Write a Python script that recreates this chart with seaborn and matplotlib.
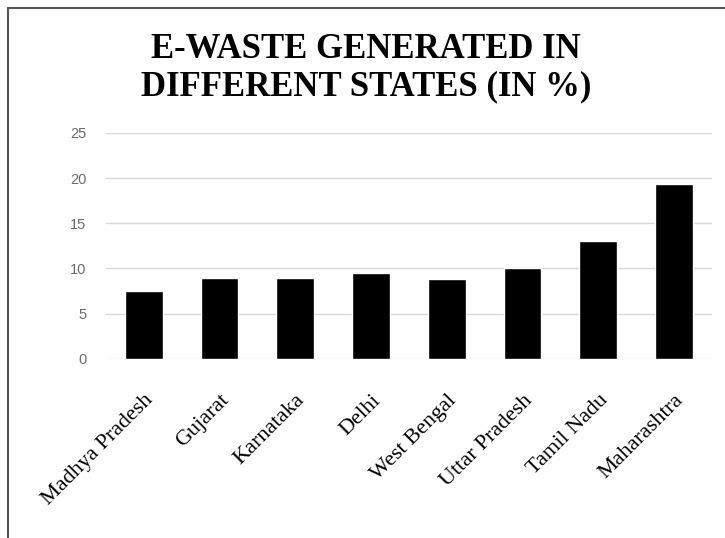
import matplotlib
matplotlib.use("Agg")
import matplotlib.pyplot as plt
import pandas as pd
import seaborn as sns
from matplotlib.lines import Line2D

# values (percent of e-waste)
states = ["Madhya Pradesh", "Gujarat", "Karnataka", "Delhi",
          "West Bengal", "Uttar Pradesh", "Tamil Nadu", "Maharashtra"]
share = [7.5, 8.9, 8.9, 9.5, 8.8, 10.0, 13.0, 19.4]
y_ticks = [0, 5, 10, 15, 20, 25]
title = "E-WASTE GENERATED IN\nDIFFERENT STATES (IN %)"

df = pd.DataFrame({"state": states, "share": share})

sns.set_theme(style="white")
plt.rcParams["font.family"] = ["Liberation Serif", "DejaVu Serif"]
plt.rcParams["text.color"] = "black"

fig = plt.figure(figsize=(7.25, 5.38), dpi=100)
ax = fig.add_axes([0.146, 0.333, 0.836, 0.42])

sns.barplot(data=df, x="state", y="share", color="black",
            width=0.5, saturation=1, ax=ax, zorder=3)

ax.set_ylim(0, 25)
ax.set_yticks(y_ticks)
ax.yaxis.grid(True, color="#d9d9d9", linewidth=1, zorder=0)
ax.set_xlabel("")
ax.set_ylabel("")
sns.despine(ax=ax, left=True, bottom=True, top=True, right=True)
ax.tick_params(axis="both", length=0)

for lab in ax.get_yticklabels():
    lab.set_fontfamily("Liberation Sans")
    lab.set_fontsize(10.5)
    lab.set_color("#6b6b6b")
ax.tick_params(axis="y", pad=14)

ax.set_xticks(range(len(states)))
ax.set_xticklabels(states, rotation=45, ha="right", rotation_mode="anchor",
                   fontsize=16, color="black")
ax.tick_params(axis="x", pad=23)

fig.text(0.505, 0.873, title, ha="center", va="center", fontsize=25,
         fontweight="bold", color="black", linespacing=1.15)

# chart frame (only top and left edges visible in the reference)
fig.add_artist(Line2D([0.011, 1.0], [0.986, 0.986], transform=fig.transFigure,
                      color="#555555", linewidth=1.5))
fig.add_artist(Line2D([0.011, 0.011], [0.0, 0.986], transform=fig.transFigure,
                      color="#555555", linewidth=1.5))

fig.savefig("out.png", dpi=100)
